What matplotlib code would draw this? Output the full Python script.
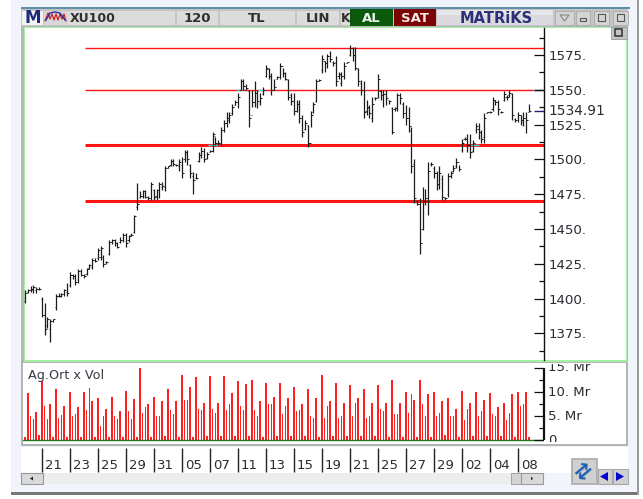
import matplotlib
matplotlib.use("Agg")
import matplotlib.pyplot as plt
from matplotlib.patches import Rectangle, Polygon
from matplotlib.transforms import Bbox, TransformedBbox

W, H_PX = 643, 499

high = [1406,1407,1409,1410,1408,1408,1401,1397,1387,1385,
        1385,1403,1404,1404,1407,1411,1419,1418,1418,1421,
        1421,1418,1422,1425,1429,1429,1436,1438,1431,
        1427,1442,1443,1443,1441,1444,1447,1447,1446,1447,
        1460,1483,1477,1478,1478,1474,1484,1479,1479,1484,
        1484,1495,1495,1500,1500,1497,1500,1502,1507,1507,
        1497,1491,1490,1505,1509,1508,1505,1507,1520,1516,
        1514,1523,1528,1534,1534,1540,1543,1548,1558,1558,
        1554,1550,1550,1556,1550,1548,1552,1568,1566,
        1562,1558,1560,1569,1566,1563,1558,1548,1548,1543,
        1543,1532,1528,1525,1535,1541,1558,1558,1575,1571,
        1576,1578,1571,1574,1563,1563,1570,1570,1582,1581,
        1581,1566,1557,1556,1543,1539,1545,1545,1561,1550,
        1550,1550,1543,1538,1538,1548,1548,1541,1539,
        1538,1523,1500,1471,1472,1480,1479,1498,1498,1495,
        1492,1495,1489,1473,1490,1492,1496,1501,1496,1515,
        1516,1518,1518,1514,1526,1526,1521,1533,1534,1535,
        1545,1543,1543,1535,1549,1546,1550,1548,1530,1534,
        1532,1534,1534,1540]
low = [1397,1404,1405,1404,1404,1406,1387,1374,1379,1369,
       1383,1392,1401,1401,1402,1402,1408,1414,1410,1411,
       1416,1415,1417,1421,1421,1426,1428,1428,1423,
       1425,1431,1439,1438,1436,1440,1441,1437,1441,1445,
       1447,1464,1472,1472,1472,1471,1471,1471,1471,1472,
       1478,1477,1494,1495,1495,1495,1492,1487,1498,1496,
       1487,1475,1486,1498,1501,1498,1500,1505,1505,1510,
       1510,1510,1520,1523,1526,1532,1539,1537,1550,1550,
       1550,1523,1538,1538,1537,1539,1546,1559,1558,
       1546,1550,1558,1558,1559,1557,1543,1539,1532,1534,
       1526,1516,1521,1509,1523,1533,1541,1556,1562,1563,
       1566,1570,1567,1553,1558,1553,1558,1569,1574,1571,
       1564,1553,1546,1530,1532,1530,1527,1543,1544,1543,
       1538,1539,1540,1518,1535,1535,1540,1530,1525,
       1520,1490,1469,1467,1432,1449,1467,1460,1495,1487,
       1478,1479,1471,1471,1473,1487,1491,1494,1492,1505,
       1514,1505,1501,1505,1519,1515,1512,1512,1533,1533,
       1535,1539,1532,1533,1542,1543,1545,1528,1527,1527,
       1525,1524,1519,1534]
close = [1404,1406,1407,1408,1407,1407,1388,1378,1385,1384,
         1385,1402,1402,1403,1406,1404,1417,1416,1412,1420,
         1417,1416,1421,1424,1428,1427,1435,1436,1425,
         1426,1441,1442,1440,1437,1442,1446,1440,1445,1446,
         1459,1468,1474,1477,1473,1472,1482,1473,1478,1482,
         1481,1494,1495,1499,1497,1496,1498,1490,1505,1500,
         1490,1485,1487,1503,1506,1500,1504,1506,1518,1512,
         1512,1521,1526,1530,1532,1538,1541,1545,1556,1553,
         1551,1530,1541,1548,1542,1544,1550,1566,1560,
         1550,1552,1559,1567,1562,1558,1545,1542,1535,1540,
         1530,1520,1526,1512,1532,1540,1556,1557,1572,1569,
         1574,1572,1569,1556,1561,1560,1567,1570,1580,1575,
         1566,1556,1550,1534,1538,1533,1540,1544,1558,1546,
         1547,1544,1542,1520,1537,1546,1544,1533,1530,
         1524,1495,1472,1468,1440,1470,1472,1492,1497,1490,
         1482,1490,1473,1472,1488,1490,1494,1498,1493,1512,
         1515,1510,1505,1512,1524,1520,1515,1530,1534,1534,
         1543,1541,1536,1534,1547,1545,1548,1532,1528,1532,
         1528,1530,1528,1535]
open_ = [1398,1405,1406,1406,1406,1407,1400,1388,1381,1378,
         1384,1394,1402,1402,1403,1405,1410,1417,1416,1412,
         1420,1417,1418,1422,1423,1428,1429,1430,1430,
         1426,1432,1441,1442,1440,1441,1442,1446,1442,1446,
         1448,1466,1473,1474,1477,1473,1472,1478,1474,1478,
         1480,1480,1494,1496,1499,1496,1495,1496,1500,1504,
         1496,1488,1487,1499,1503,1506,1501,1505,1506,1517,
         1512,1512,1521,1526,1528,1533,1539,1541,1550,1556,
         1553,1549,1532,1541,1548,1542,1547,1560,1565,
         1560,1550,1558,1559,1567,1562,1557,1546,1542,1535,
         1540,1530,1522,1525,1512,1534,1542,1556,1564,1571,
         1569,1574,1570,1570,1560,1555,1560,1569,1575,1580,
         1575,1565,1555,1550,1535,1537,1530,1544,1545,1549,
         1546,1547,1543,1537,1536,1537,1546,1540,1533,
         1530,1521,1497,1470,1468,1450,1470,1472,1497,1494,
         1490,1482,1486,1472,1475,1488,1492,1495,1498,1507,
         1515,1515,1510,1506,1521,1522,1520,1516,1533,1534,
         1536,1543,1541,1534,1543,1545,1546,1547,1529,1528,
         1532,1527,1530,1534]
volume = [0.6,9.7,5.1,4.4,5.9,1.0, 12.2,7.1,4.4,7.4,0.6, 10.6,4.6,5.2,7.1,0.6,
          10.1,5.1,5.4,6.8,0.6, 10.1,6.3,10.9,8.1,0.6, 8.7,3.0,4.9,6.5,0.6,
          9.0,5.1,4.4,6.0,0.6, 10.3,6.0,4.4,8.5,0.6, 14.9,5.7,6.8,7.4,0.6,
          9.0,4.9,4.9,8.1,0.8, 10.6,6.3,5.4,8.1,0.6, 13.6,8.4,8.4,11.1,0.6,
          13.1,6.5,6.3,7.8,0.8, 13.3,6.5,5.7,7.8,0.8, 13.3,6.3,7.4,9.7,0.8,
          12.2,7.1,6.3,11.7,0.8, 12.5,6.3,5.1,8.1,0.6, 11.9,7.4,7.6,9.0,0.8,
          11.9,5.4,7.1,8.7,0.8, 11.1,6.0,6.3,7.6,0.8, 10.6,5.1,4.6,8.7,0.6,
          13.6,4.6,7.1,8.1,0.8, 11.9,4.6,4.9,7.8,0.8, 11.4,4.9,7.8,8.7,0.8,
          10.6,4.6,4.9,7.8,0.8, 11.4,6.5,6.0,7.8,0.6, 12.5,5.4,5.4,7.8,0.6,
          10.1,5.7,9.5,8.4,0.6, 12.5,7.6,5.1,9.5,0.6, 10.1,5.1,5.7,8.1,1.0,
          8.7,4.9,4.9,6.5,0.6, 10.3,4.1,6.5,7.8,0.8, 10.1,4.9,6.0,8.4,0.8,
          9.7,5.4,4.9,6.8,0.8, 7.8,4.1,5.7,9.5,0.6, 10.1,7.1,7.4,10.1,0.6]

thin_levels = [1580, 1550]
thick_levels = [1510, 1470]
level_start = 21.4
last_price = 1534.91
cyan_marks = [(1550, 75.7, 77.5), (1550, 83.2, 85.7), (1550, 181.4, 185.4), (1510, 65.4, 69.0), (1510, 159.0, 162.0)]
price_ticks = [1375, 1400, 1425, 1450, 1475, 1500, 1525, 1550, 1575]
price_minor = [1362.5, 1387.5, 1412.5, 1437.5, 1462.5, 1487.5, 1512.5, 1537.5, 1562.5, 1587.5]
vol_ticks = [0, 5, 10, 15]
vol_tick_labels = ["0", "5. Mr", "10. Mr", "15. Mr"]
vol_minor = [2.5, 7.5, 12.5]
date_labels = ["21","23","25","29","31","05","07","11","13","15","19","21","25","27","29","02","04","08"]
date_pos = [6,16,26,36,46,56,66,76,86,96,106,116,126,136,146,156,166,176]

plt.rcParams["font.family"] = "DejaVu Sans"
fig = plt.figure(figsize=(W/100, H_PX/100), dpi=100, facecolor="white")

def axes_px(x0, y0, x1, y1, **kw):
    return fig.add_axes([x0/W, 1-y1/H_PX, (x1-x0)/W, (y1-y0)/H_PX], **kw)

bg = axes_px(0, 0, W, H_PX)
bg.set_xlim(0, W); bg.set_ylim(H_PX, 0); bg.axis("off")

def rect(x0, y0, x1, y1, fc, ec="none", lw=0, z=1):
    bg.add_patch(Rectangle((x0, y0), x1-x0, y1-y0, fc=fc, ec=ec, lw=lw, zorder=z))

# window frame
rect(11, 0, 639, 495, "#f1f5fb")
rect(11, 492, 639, 495, "#777777", z=2)
rect(637, 0, 639, 495, "#9a9a9a", z=2)
rect(21, 7, 630, 9, "#5f8fa8", z=2)
rect(21, 9, 628, 27, "#c4c4c4", z=2)
# title cells
cells = [(68,175,"#dcdcdc"),(177,218,"#dcdcdc"),(220,295,"#dcdcdc"),(297,339,"#dcdcdc"),(341,352,"#dcdcdc")]
for a, b, c in cells:
    rect(a, 10.5, b, 25, c, z=3)
rect(22, 10.5, 43, 25, "#f4f4f4", z=3)
rect(44, 10.5, 68, 25, "#d8d8d8", z=3)
rect(350, 9, 393, 26, "#0b5a0b", z=4)
rect(394, 9, 436, 26, "#7c0404", z=4)
rect(437, 9.5, 553, 25, "#d9d9de", z=4)
rect(437, 9.5, 553, 15, "#e6e6ea", z=4)
for a, b in [(555,574),(576,590),(594,609),(613,628)]:
    rect(a, 10.5, b, 25, "#d4d4d4", ec="#aaaaaa", lw=0.6, z=3)
T = dict(va="center", zorder=6)
bg.text(32.5, 18, "M", ha="center", color="#1c2a78", fontsize=12, fontweight="bold", **T)
bg.text(70, 18, "XU100", ha="left", color="#303030", fontsize=9, fontweight="bold", **T)
bg.text(197, 18, "120", ha="center", color="#303030", fontsize=9.5, fontweight="bold", **T)
bg.text(257, 18, "TL", ha="center", color="#303030", fontsize=9.5, fontweight="bold", **T)
bg.text(318, 18, "LIN", ha="center", color="#303030", fontsize=9.5, fontweight="bold", **T)
bg.text(345.5, 18, "K", ha="center", color="#303030", fontsize=9, fontweight="bold", **T)
bg.text(371, 18, "AL", ha="center", color="#e8f4e8", fontsize=9.5, fontweight="bold", **T)
bg.text(415, 18, "SAT", ha="center", color="#f4e8e8", fontsize=9.5, fontweight="bold", **T)
bg.text(496, 18, "MATRiKS", ha="center", color="#2c2f78", fontsize=10.5, fontweight="bold", **T)
# title icons
bg.plot([45,48,50,52,54,56,58,60,62,64,66], [21,13,19,14,20,14,20,14,19,14,21], color="#d02020", lw=0.9, zorder=6)
bg.plot([46,50,55,60,65], [20,13,12,13,20], color="#2030a0", lw=1.0, zorder=6)
bg.add_patch(Polygon([[560,15],[569,15],[564.5,21]], closed=True, fc="none", ec="#888888", lw=0.8, zorder=6))
rect(580, 18, 586, 21, "none", ec="#555555", lw=0.8, z=6)
rect(598, 14, 605, 21, "none", ec="#555555", lw=0.8, z=6)
rect(617, 14, 624, 21, "none", ec="#555555", lw=0.8, z=6)

# chart frames
rect(21, 26, 628, 362, "#b8b8b8", z=2)
rect(24, 27, 627, 361.5, "#a4efa4", z=3)
rect(25, 28, 626, 360, "white", z=4)
rect(21, 362, 628, 446, "#b4b4b4", z=2)
rect(23, 363, 626, 444, "white", z=3)
rect(21, 447, 628, 473, "white", z=2)
rect(21, 473, 511, 484, "#ededed", z=2)
rect(21, 473, 43, 484, "#d9d9d9", ec="#999999", lw=0.8, z=3)
bg.add_patch(Polygon([[30,478.5],[33,476.5],[33,480.5]], closed=True, fc="#222222", zorder=4))
rect(511, 473, 521, 484, "#d4d4d4", ec="#999999", lw=0.6, z=3)
rect(521, 473, 543, 484, "#d9d9d9", ec="#999999", lw=0.8, z=3)
bg.add_patch(Polygon([[533,478.5],[531,476.5],[531,480.5]], closed=True, fc="#222222", zorder=4))
# bottom right buttons
rect(572, 459, 597, 484, "#d0d0d0", ec="#aaaaaa", lw=1.2, z=3)
bg.text(584.5, 471, "\u21c4", ha="center", va="center", color="#1a5fb0", fontsize=15, fontweight="bold", rotation=40, zorder=5)
rect(598, 469, 612, 484, "#d0d0d0", ec="#aaaaaa", lw=0.8, z=3)
rect(613, 469, 628, 484, "#d0d0d0", ec="#aaaaaa", lw=0.8, z=3)
bg.add_patch(Polygon([[600,476.5],[608,472],[608,481]], closed=True, fc="#0000d0", zorder=5))
bg.add_patch(Polygon([[624,476.5],[616,472],[616,481]], closed=True, fc="#0000d0", zorder=5))
# small maximise button in the chart corner
rect(611, 27, 627, 39, "#c4c4c4", ec="#999999", lw=0.6, z=6)
rect(615, 29, 622, 36, "none", ec="#333333", lw=1.1, z=7)

# x mapping: bar i sits at pixel 25 + 2.8 i
STEP = 2.8
XL = (23-25)/STEP
XR = (544-25)/STEP

# price panel
ax = axes_px(23, 28, 544, 360, facecolor="none")
ax.set_zorder(5)
ax.set_xlim(XL, XR)
ax.set_ylim(1355.9, 1594.4)
for s in ["top", "left", "bottom"]:
    ax.spines[s].set_visible(False)
ax.spines["right"].set_linewidth(1.0)
ax.spines["right"].set_color("#111111")
ax.set_xticks([])
ax.yaxis.tick_right()
ax.set_yticks(price_ticks)
ax.set_yticklabels([f"{v}." for v in price_ticks], fontsize=9.6, color="#2b2b33")
ax.tick_params(axis="y", which="major", length=0, pad=3.5)

x = list(range(len(high)))
RED = "#ff1414"
ax.hlines(thin_levels, level_start, XR, color=RED, lw=1.0, zorder=2)
ax.hlines(thick_levels, level_start, XR, color=RED, lw=2.2, zorder=2)
for lev, a, b in cyan_marks:
    ax.hlines(lev, a, b, color="#33e6f0", lw=1.0, zorder=3)
ax.vlines(x, low, high, color="#1c1c1c", lw=0.9, zorder=4)
ax.hlines(close, x, [i+0.7 for i in x], color="#1c1c1c", lw=0.7, zorder=4)
ax.hlines(open_, [i-0.45 for i in x], x, color="#1c1c1c", lw=0.6, zorder=4)
# inward ticks on the axis
ax.hlines(price_ticks, XR-10/STEP, XR, color="#111111", lw=0.9, zorder=5)
ax.hlines(price_minor, XR-5/STEP, XR, color="#111111", lw=0.9, zorder=5)
ax.hlines(last_price, XR-10/STEP, XR, color="#20207a", lw=1.0, zorder=5)
ax.annotate(f"{last_price}", (1, last_price), xycoords=("axes fraction", "data"), xytext=(3.0, 0),
            textcoords="offset points", va="center", ha="left", fontsize=9.9, color="#2b2b33", annotation_clip=False)

# volume panel
vx = axes_px(23, 363, 544, 444, facecolor="none")
vx.set_zorder(5)
vx.set_xlim(XL, XR)
vx.set_ylim(-0.83, 16.04)
for s in ["top", "left", "bottom", "right"]:
    vx.spines[s].set_visible(False)
vx.set_xticks([])
vx.set_yticks([])
vx.bar(list(range(len(volume))), volume, width=0.55, color="#ff1f1f", zorder=2, linewidth=0)
vx.axhline(0, color="#1f7a1f", lw=1.0, zorder=3)
vx.vlines(XR, 0, 15, color="#111111", lw=1.6, clip_on=False, zorder=4)
vx.hlines(vol_ticks, XR-10/STEP, XR, color="#111111", lw=0.9, zorder=4)
vx.hlines(vol_minor, XR-5/STEP, XR, color="#111111", lw=0.9, zorder=4)
clip_box = TransformedBbox(Bbox([[0, 1-441.5/H_PX], [1, 1-364/H_PX]]), fig.transFigure)
for v, lab in zip(vol_ticks, vol_tick_labels):
    t = vx.annotate(lab, (1, v), xycoords=("axes fraction", "data"), xytext=(3.0, 0),
                    textcoords="offset points", va="center", ha="left", fontsize=9.5,
                    color="#2b2b33", annotation_clip=False)
    t.set_clip_box(clip_box); t.set_clip_on(True)
vx.text(28/W, 1-375/H_PX, "Ag.Ort x Vol", transform=fig.transFigure, ha="left", va="center",
        fontsize=9.2, color="#3a3a48")

# date strip
dx = axes_px(23, 447, 544, 473, facecolor="none")
dx.set_zorder(5)
dx.set_xlim(XL, XR); dx.set_ylim(0, 1); dx.axis("off")
dx.vlines(date_pos, 0.05, 0.95, color="#222222", lw=1.0)
for p, lab in zip(date_pos, date_labels):
    dx.annotate(lab, (p, 0.3), xytext=(2.2, 0), textcoords="offset points", ha="left", va="center",
                fontsize=9.5, color="#2b2b33")

fig.savefig("out.png", dpi=100, facecolor="white")
